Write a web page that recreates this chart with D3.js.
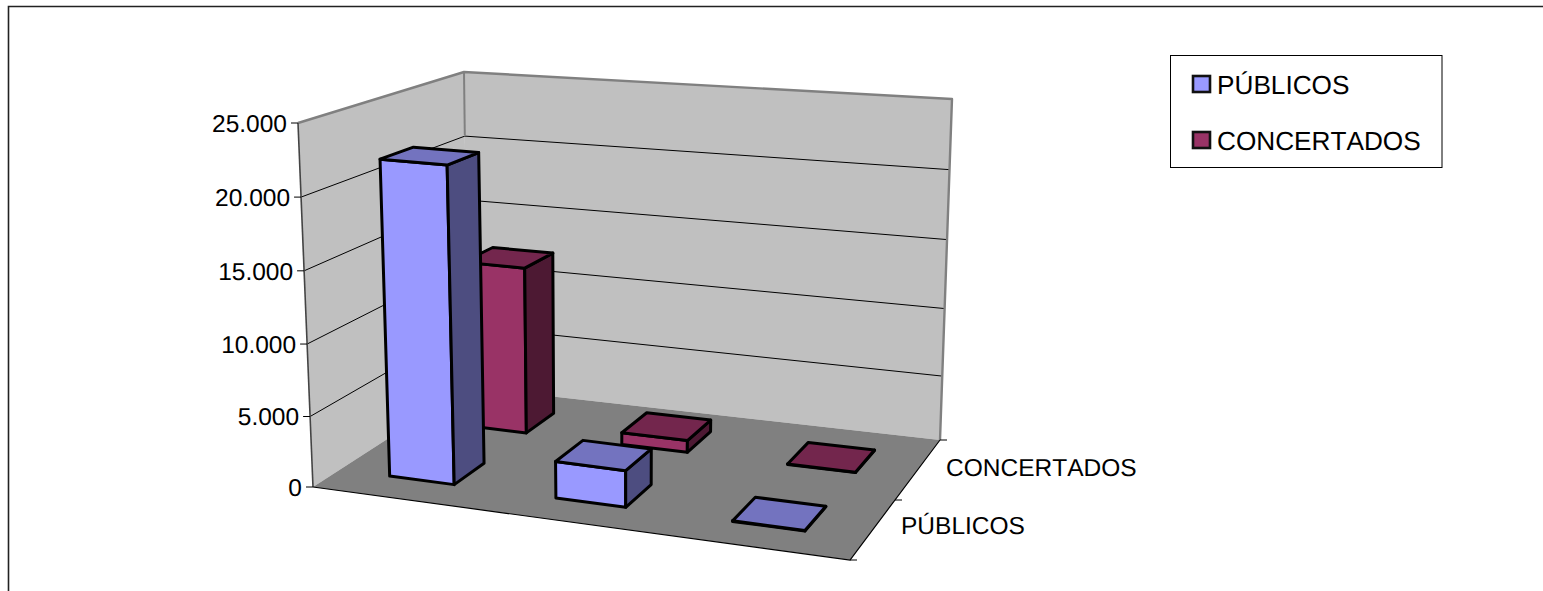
<!DOCTYPE html>
<html>
<head>
<meta charset="utf-8">
<script src="https://cdn.jsdelivr.net/npm/d3@7"></script>
<style>
html, body { margin: 0; padding: 0; background: #fff; overflow: hidden; }
text { font-family: "Liberation Sans", Arial, sans-serif; fill: #000; text-rendering: geometricPrecision; font-kerning: none; }
</style>
</head>
<body>
<div id="chart"></div>
<script>
// data
var categories = ["grupo1", "grupo2", "grupo3"]; // the chart shows no labels for these
var seriesNames = ["PÚBLICOS", "CONCERTADOS"];
var publicos = [22200, 2660, 50];
var concertados = [12440, 940, 40];
var seriesValues = [publicos, concertados];
var yTicks = [0, 5000, 10000, 15000, 20000, 25000];

var frontFill = ["#9999FF", "#993366"];
var topFill = ["#7373BF", "#73264D"];
var sideFill = ["#4D4D80", "#4D1933"];

var width = 1543, height = 591;

// corners of the 3d box on screen, [left/right, front/back, bottom/top]
var box = {
    fl0: [313, 487], fr0: [850, 560], br0: [940, 440], bl0: [468, 387],
    fl1: [298, 123], fr1: [860, 171], br1: [952, 99], bl1: [464, 72]
};

function lerp(a, b, t) { return [a[0] + (b[0] - a[0]) * t, a[1] + (b[1] - a[1]) * t]; }

// the small exponents stand in for the perspective of the original
var uScale = d3.scalePow().exponent(1.07).domain([0, 1]).range([0.01, 0.9873]);
var vScale = d3.scalePow().exponent(0.92).domain([0, 1]).range([0, 1]);
var yScale = d3.scalePow().exponent(1.02).domain([0, 25000]).range([0, 1]);

var catBand = d3.scaleBand().domain(categories).range([0, 1]).paddingInner(0.6).paddingOuter(0.3);
var serBand = d3.scaleBand().domain(seriesNames).range([0, 1]).paddingInner(0.6).paddingOuter(0.3);

function project(u, v, w) {
    var bottom = lerp(lerp(box.fl0, box.fr0, u), lerp(box.bl0, box.br0, u), v);
    var top = lerp(lerp(box.fl1, box.fr1, u), lerp(box.bl1, box.br1, u), v);
    // levels sit a bit lower towards the right hand side
    return lerp(bottom, top, Math.pow(w, 1 + 0.02 * u));
}

var line = d3.line();
function poly(pts) { return line(pts) + "Z"; }

var svg = d3.select("#chart").append("svg")
    .attr("width", width)
    .attr("height", height)
    .style("display", "block");

// outer frame, cut by the window on the right and bottom
svg.append("path").attr("d", "M8.5,591V6.5H1543").attr("fill", "none").attr("stroke", "#222").attr("stroke-width", 1.6);

// walls and floor
svg.append("path").attr("fill", "#C0C0C0")
    .attr("d", poly([project(0, 0, 0), project(0, 1, 0), project(0, 1, 1), project(0, 0, 1)]));
svg.append("path").attr("fill", "#C0C0C0")
    .attr("d", poly([project(0, 1, 0), project(1, 1, 0), project(1, 1, 1), project(0, 1, 1)]));
svg.append("path").attr("fill", "#808080")
    .attr("d", poly([project(0, 0, 0), project(1, 0, 0), project(1, 1, 0), project(0, 1, 0)]));

// gridlines, left wall then back wall
var gridValues = yTicks.filter(function(d) { return d > 0 && d < 25000; });
svg.selectAll(".grid")
    .data(gridValues)
  .enter().append("path")
    .attr("class", "grid")
    .attr("fill", "none")
    .attr("stroke", "#000")
    .attr("stroke-width", 1)
    .attr("d", function(d) {
        var w = yScale(d);
        return line([project(0, 0, w), project(0, 1, w), project(1, 1, w)]);
    });

// grey rim of the walls
svg.append("path")
    .attr("fill", "none").attr("stroke", "#808080").attr("stroke-width", 2.4).attr("stroke-linejoin", "round")
    .attr("d", line([project(0, 0, 1), project(0, 1, 1), project(1, 1, 1), project(1, 1, 0)]));
svg.append("path")
    .attr("fill", "none").attr("stroke", "#808080").attr("stroke-width", 2)
    .attr("d", line([project(0, 1, 1), project(0, 1, 0.8)]));

// axis lines
svg.append("path")
    .attr("fill", "none").attr("stroke", "#444").attr("stroke-width", 1.6)
    .attr("d", line([project(0, 0, 1), project(0, 0, 0)]));
svg.append("path")
    .attr("fill", "none").attr("stroke", "#000").attr("stroke-width", 1.2)
    .attr("d", line([project(0, 0, 0), project(1, 0, 0), project(1, 1, 0)]));

// value axis
var esFormat = d3.formatLocale({decimal: ",", thousands: ".", grouping: [3], currency: ["", "€"]}).format(",");
var yTick = svg.selectAll(".ytick")
    .data(yTicks)
  .enter().append("g")
    .attr("class", "ytick")
    .attr("transform", function(d) {
        var p = project(0, 0, yScale(d));
        return "translate(" + p[0] + "," + p[1] + ")";
    });
yTick.append("line").attr("x1", -7).attr("x2", 0).attr("stroke", "#000").attr("stroke-width", 1);
yTick.append("text")
    .attr("x", -11)
    .attr("dy", "0.36em")
    .attr("text-anchor", "end")
    .attr("font-size", 24.5)
    .text(function(d) { return esFormat(d); });

// depth axis
var depthTicks = [0, 0.5, 1];
svg.selectAll(".dtick")
    .data(depthTicks)
  .enter().append("line")
    .attr("class", "dtick")
    .attr("stroke", "#000")
    .attr("x1", function(d) { return project(1, d, 0)[0]; })
    .attr("y1", function(d) { return project(1, d, 0)[1]; })
    .attr("x2", function(d) { return project(1, d, 0)[0] + 7; })
    .attr("y2", function(d) { return project(1, d, 0)[1]; });

svg.selectAll(".dlabel")
    .data(seriesNames)
  .enter().append("text")
    .attr("class", "dlabel")
    .attr("font-size", 24.5)
    .attr("x", function(d, i) { return [901, 946][i]; })
    .attr("y", function(d, i) { return [534, 476][i]; })
    .text(function(d) { return d; });

// bars, far row first so the near row covers it
var bars = [];
seriesNames.forEach(function(s, si) {
    categories.forEach(function(c, ci) {
        bars.push({s: si, u0: catBand(c), u1: catBand(c) + catBand.bandwidth(),
                   v0: serBand(s), v1: serBand(s) + serBand.bandwidth(), value: seriesValues[si][ci]});
    });
});
bars.sort(function(a, b) { return b.s - a.s; });

var bar = svg.selectAll(".bar")
    .data(bars)
  .enter().append("g")
    .attr("class", "bar")
    .attr("stroke", "#000")
    .attr("stroke-width", 3)
    .attr("stroke-linejoin", "round");

// rows further back drift slightly to the right
function pt(u, v, w) { return project(uScale(u) + 0.008 * v, vScale(v), w); }

bar.append("path")
    .attr("fill", function(d) { return frontFill[d.s]; })
    .attr("d", function(d) {
        var w = yScale(d.value);
        return poly([pt(d.u0, d.v0, 0), pt(d.u1, d.v0, 0), pt(d.u1, d.v0, w), pt(d.u0, d.v0, w)]);
    });
bar.append("path")
    .attr("fill", function(d) { return sideFill[d.s]; })
    .attr("d", function(d) {
        var w = yScale(d.value);
        return poly([pt(d.u1, d.v0, 0), pt(d.u1, d.v1, 0), pt(d.u1, d.v1, w), pt(d.u1, d.v0, w)]);
    });
bar.append("path")
    .attr("fill", function(d) { return topFill[d.s]; })
    .attr("d", function(d) {
        var w = yScale(d.value);
        return poly([pt(d.u0, d.v0, w), pt(d.u1, d.v0, w), pt(d.u1, d.v1, w), pt(d.u0, d.v1, w)]);
    });

// legend
var legend = svg.append("g");
legend.append("rect")
    .attr("x", 1170.5).attr("y", 55.5).attr("width", 271.5).attr("height", 112)
    .attr("fill", "#fff").attr("stroke", "#000").attr("stroke-width", 1);
var legendRow = legend.selectAll(".row")
    .data(seriesNames)
  .enter().append("g")
    .attr("class", "row")
    .attr("transform", function(d, i) { return "translate(0," + (i * 56) + ")"; });
legendRow.append("rect")
    .attr("x", 1193).attr("y", 76).attr("width", 17).attr("height", 16)
    .attr("fill", function(d, i) { return frontFill[i]; })
    .attr("stroke", "#111").attr("stroke-width", 2.6);
legendRow.append("text")
    .attr("x", 1217).attr("y", 94)
    .attr("font-size", 26.2)
    .text(function(d) { return d; });
</script>
</body>
</html>
